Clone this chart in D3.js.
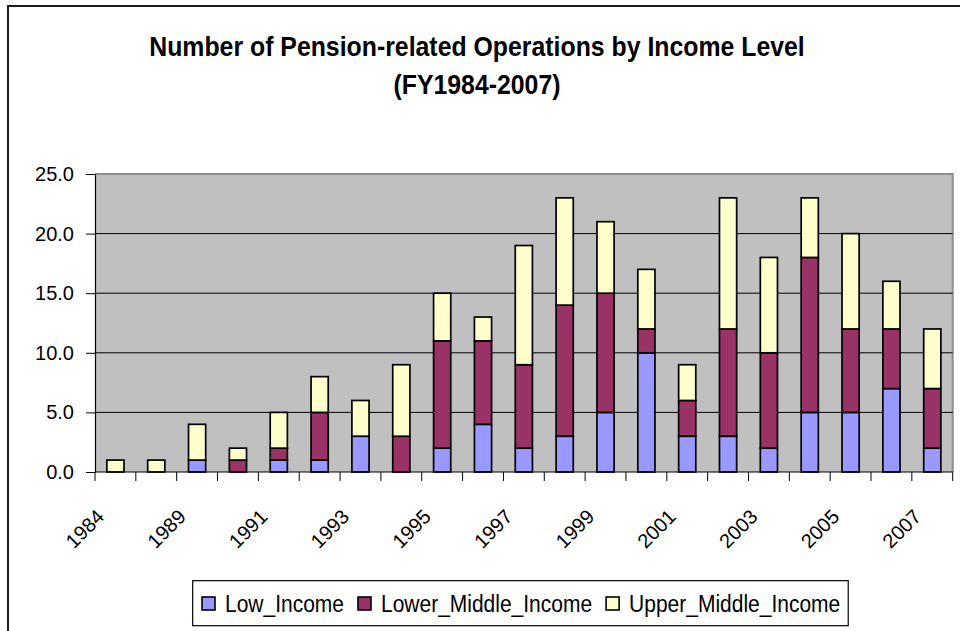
<!DOCTYPE html>
<html>
<head>
<meta charset="utf-8">
<script src="https://cdn.jsdelivr.net/npm/d3@7"></script>
<style>
  html, body { margin: 0; padding: 0; background: #fff; }
  svg { display: block; }
  .lbl { font-family: "Liberation Sans", Arial, sans-serif; fill: #000; }
</style>
</head>
<body>
<svg id="chart" width="960" height="631"></svg>
<script>
// fiscal years (the second bar sits between 1984 and 1989)
const categories = ['1984', '1988', '1989', '1990', '1991', '1992', '1993', '1994', '1995', '1996', '1997',
  '1998', '1999', '2000', '2001', '2002', '2003', '2004', '2005', '2006', '2007'];
const lowIncome = [0, 0, 1, 0, 1, 1, 3, 0, 2, 4, 2, 3, 5, 10, 3, 3, 2, 5, 5, 7, 2];
const lowerMiddleIncome = [0, 0, 0, 1, 1, 4, 0, 3, 9, 7, 7, 11, 10, 2, 3, 9, 8, 13, 7, 5, 5];
const upperMiddleIncome = [1, 1, 3, 1, 3, 3, 3, 6, 4, 2, 10, 9, 6, 5, 3, 11, 8, 5, 8, 4, 5];
const seriesNames = ['Low_Income', 'Lower_Middle_Income', 'Upper_Middle_Income'];
const yTicks = [0, 5, 10, 15, 20, 25];
const xLabelYears = ['1984', '1989', '1991', '1993', '1995', '1997', '1999', '2001', '2003', '2005', '2007'];

const colors = { Low_Income: '#9999ff', Lower_Middle_Income: '#993366', Upper_Middle_Income: '#ffffcc' };

const rows = categories.map((c, i) => ({
  year: c,
  Low_Income: lowIncome[i],
  Lower_Middle_Income: lowerMiddleIncome[i],
  Upper_Middle_Income: upperMiddleIncome[i],
}));

const plot = { left: 95, right: 952.7, top: 174, bottom: 472 };
const NARROW = 0.875; // squeeze Liberation Sans toward a narrow face

const svg = d3.select('#chart');

// outer chart frame (runs off the right / bottom of the picture)
svg.append('rect')
  .attr('x', 8).attr('y', 6).attr('width', 980).attr('height', 660)
  .attr('fill', '#fff').attr('stroke', '#1a1a1a').attr('stroke-width', 2);

const x = d3.scaleBand()
  .domain(categories)
  .range([plot.left, plot.right])
  .paddingInner(0.58)
  .paddingOuter(0.29);

const y = d3.scaleLinear().domain([0, 25]).range([plot.bottom, plot.top]);

// plot background
svg.append('rect')
  .attr('x', plot.left).attr('y', plot.top)
  .attr('width', plot.right - plot.left).attr('height', plot.bottom - plot.top)
  .attr('fill', '#c0c0c0');

// gray border on top and right
svg.append('path')
  .attr('d', `M${plot.left},${plot.top}H${plot.right}V${plot.bottom}`)
  .attr('fill', 'none').attr('stroke', '#8c8c8c').attr('stroke-width', 2);

// gridlines
svg.append('g')
  .selectAll('line')
  .data(yTicks.filter(t => t > 0 && t < 25))
  .join('line')
  .attr('x1', plot.left).attr('x2', plot.right)
  .attr('y1', d => y(d)).attr('y2', d => y(d))
  .attr('stroke', '#000').attr('stroke-width', 1);

// stacked bars
const stack = d3.stack().keys(seriesNames)(rows);
svg.append('g')
  .selectAll('g')
  .data(stack)
  .join('g')
  .attr('fill', d => colors[d.key])
  .selectAll('rect')
  .data(d => d)
  .join('rect')
  .attr('x', d => x(d.data.year))
  .attr('width', x.bandwidth())
  .attr('y', d => y(d[1]))
  .attr('height', d => y(d[0]) - y(d[1]))
  .attr('stroke', '#000')
  .attr('stroke-width', 1.7);

// y axis
const yAxis = svg.append('g')
  .attr('transform', `translate(${plot.left},0)`)
  .call(d3.axisLeft(y).tickValues(yTicks).tickFormat(d3.format('.1f')).tickSize(9).tickPadding(12));
yAxis.select('.domain').attr('stroke', '#000').attr('stroke-width', 1.2);
yAxis.selectAll('.tick line').attr('stroke', '#000');
yAxis.selectAll('text')
  .attr('class', 'lbl')
  .attr('font-size', 20)
  .attr('fill', '#000');

// x axis line and category ticks
svg.append('line')
  .attr('x1', plot.left).attr('x2', plot.right)
  .attr('y1', plot.bottom).attr('y2', plot.bottom)
  .attr('stroke', '#000').attr('stroke-width', 1.2);
const bounds = categories.map(c => x(c) - x.step() * x.paddingOuter()).concat([plot.right]);
svg.append('g')
  .selectAll('line')
  .data(bounds)
  .join('line')
  .attr('x1', d => d).attr('x2', d => d)
  .attr('y1', plot.bottom).attr('y2', plot.bottom + 9)
  .attr('stroke', '#000');

svg.append('g')
  .selectAll('text')
  .data(xLabelYears)
  .join('text')
  .attr('class', 'lbl')
  .attr('font-size', 20)
  .attr('text-anchor', 'end')
  .attr('transform', d => `translate(${x(d) + x.bandwidth() / 2 - 10},${plot.bottom + 46}) rotate(-45)`)
  .text(d => d);

// title
const title = svg.append('g').attr('transform', 'translate(477,0)');
[['Number of Pension-related Operations by Income Level', 56], ['(FY1984-2007)', 94]].forEach(([s, ty]) => {
  title.append('text')
    .attr('class', 'lbl')
    .attr('text-anchor', 'middle')
    .attr('font-weight', 'bold')
    .attr('font-size', 27)
    .attr('transform', `translate(0,${ty}) scale(0.92,1)`)
    .text(s);
});

// legend
const legend = svg.append('g');
const legendBox = legend.append('rect')
  .attr('fill', '#fff').attr('stroke', '#000').attr('stroke-width', 1.2);
let lx = 202;
seriesNames.forEach((name) => {
  legend.append('rect')
    .attr('x', lx).attr('y', 597)
    .attr('width', 13).attr('height', 13)
    .attr('fill', colors[name]).attr('stroke', '#000').attr('stroke-width', 1.6);
  const t = legend.append('text')
    .attr('class', 'lbl')
    .attr('font-size', 24)
    .attr('transform', `translate(${lx + 23},612) scale(${NARROW},1)`)
    .text(name);
  lx += 23 + t.node().getComputedTextLength() * NARROW + 14;
});
legendBox
  .attr('x', 192.7).attr('y', 580.7)
  .attr('width', lx - 14 + 8 - 192.7).attr('height', 45);
</script>
</body>
</html>
